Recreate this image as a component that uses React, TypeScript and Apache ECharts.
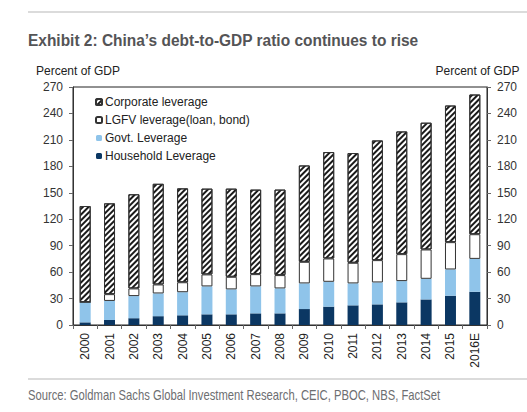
import React, { useEffect, useRef } from 'react';
import * as echarts from 'echarts';

const years = ['2000', '2001', '2002', '2003', '2004', '2005', '2006', '2007', '2008', '2009', '2010', '2011', '2012', '2013', '2014', '2015', '2016E'];
const household = [3, 5.7, 7.7, 10, 11, 12.1, 12.1, 13.2, 13.2, 18.1, 20.8, 22.3, 23.4, 25.7, 29, 33.2, 37.7];
const govt = [23, 21.6, 25.1, 25.8, 26.2, 31.7, 28.3, 30.6, 28.3, 29.1, 28.2, 24.9, 24.9, 24.1, 23.4, 29.8, 37.3];
const lgfv = [0, 7.7, 8.7, 10.2, 11.3, 13.6, 14.3, 13.9, 15.1, 24.5, 26.5, 23.4, 25.3, 30.6, 33.3, 31, 28];
const corporate = [109, 103, 106.8, 114.2, 106.5, 97.3, 100, 95.9, 97, 109.3, 120.7, 124.5, 135.8, 139.2, 143.8, 155, 158.5];
const seriesNames = ['Household Leverage', 'Govt. Leverage', 'LGFV leverage(loan, bond)', 'Corporate leverage'];
const yMin = 0;
const yMax = 270;
const yInterval = 30;
const titleText = 'Exhibit 2: China\u2019s debt-to-GDP ratio continues to rise';
const sourceText = 'Source: Goldman Sachs Global Investment Research, CEIC, PBOC, NBS, FactSet';
const axisName = 'Percent of GDP';

const FONT = "'Liberation Sans', Arial, sans-serif";

export default function App() {
  const ref = useRef<HTMLDivElement>(null);
  useEffect(() => {
    if (!ref.current) return;
    const chart = echarts.init(ref.current, null, { renderer: 'svg' });
    const axisCommon = {
      type: 'value' as const,
      min: yMin,
      max: yMax,
      interval: yInterval,
      name: axisName,
      nameLocation: 'end' as const,
      nameGap: 10,
      axisLine: { show: true, lineStyle: { color: '#333', width: 1 } },
      axisTick: { show: true, length: 4, lineStyle: { color: '#666' } },
      splitLine: { show: false },
      axisLabel: { fontSize: 12, color: '#333', fontFamily: FONT, margin: 10 },
    };
    const hatch = {
      symbol: 'rect',
      symbolSize: 1,
      dashArrayX: [1, 0],
      dashArrayY: [1.6, 1.6],
      rotation: -Math.PI / 4,
      color: '#1a1a1a',
    };
    chart.setOption({
      animation: false,
      backgroundColor: '#fff',
      textStyle: { fontFamily: FONT },
      graphic: [
        { type: 'line', shape: { x1: 28, y1: 12, x2: 527, y2: 12 }, style: { stroke: '#b8b8b8', lineWidth: 1.2 } },
        { type: 'line', shape: { x1: 28, y1: 379, x2: 527, y2: 379 }, style: { stroke: '#b8b8b8', lineWidth: 1.2 } },
        {
          type: 'text',
          x: 28,
          y: 40,
          scaleX: 0.91,
          style: {
            text: titleText,
            fill: '#545456',
            font: "bold 17px 'Liberation Sans', Arial, sans-serif",
            textVerticalAlign: 'middle',
            textAlign: 'left',
          },
        },
        {
          type: 'text',
          x: 28,
          y: 395,
          scaleX: 0.775,
          style: {
            text: sourceText,
            fill: '#6d6e71',
            font: "14.5px 'Liberation Sans', Arial, sans-serif",
            textVerticalAlign: 'middle',
            textAlign: 'left',
          },
        },
      ],
      grid: { left: 73, right: 40, top: 87, bottom: 87, show: true, borderColor: '#222', borderWidth: 1, containLabel: false },
      legend: {
        orient: 'vertical',
        left: 95,
        top: 96,
        padding: 0,
        itemGap: 6,
        itemWidth: 6,
        itemHeight: 6,
        data: [seriesNames[3], seriesNames[2], seriesNames[1], seriesNames[0]],
        textStyle: { fontSize: 12, color: '#222', fontFamily: FONT, padding: [0, 0, 0, -2] },
      },
      xAxis: {
        type: 'category',
        data: years,
        axisLine: { show: true, lineStyle: { color: '#333' } },
        axisTick: { show: true, length: 4, lineStyle: { color: '#666' } },
        axisLabel: { rotate: 90, fontSize: 12, color: '#222', margin: 8, fontFamily: FONT, interval: 0 },
      },
      yAxis: [
        { ...axisCommon, position: 'left', nameTextStyle: { fontSize: 12, color: '#222', align: 'center', padding: [0, 0, 0, 10] } },
        { ...axisCommon, position: 'right', nameTextStyle: { fontSize: 12, color: '#222', align: 'center', padding: [0, 19, 0, 0] } },
      ],
      series: [
        { name: seriesNames[0], type: 'bar', stack: 'd', barWidth: 11, data: household, itemStyle: { color: '#0b3763' } },
        { name: seriesNames[1], type: 'bar', stack: 'd', data: govt, itemStyle: { color: '#8fc4ea' } },
        { name: seriesNames[2], type: 'bar', stack: 'd', data: lgfv, itemStyle: { color: '#ffffff', borderColor: '#333', borderWidth: 1 } },
        { name: seriesNames[3], type: 'bar', stack: 'd', data: corporate, itemStyle: { color: '#ffffff', borderColor: '#333', borderWidth: 1, decal: hatch } },
      ],
    });
    return () => chart.dispose();
  }, []);
  return <div ref={ref} style={{ position: 'fixed', left: 0, top: 0, width: 527, height: 412 }} />;
}
